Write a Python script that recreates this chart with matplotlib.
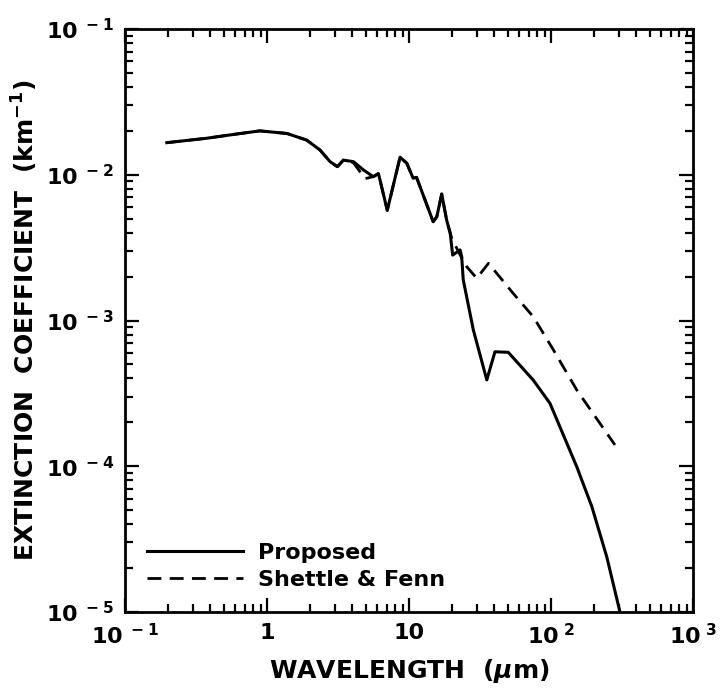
import numpy as np
import matplotlib
matplotlib.use("Agg")
import matplotlib.pyplot as plt
from matplotlib.ticker import FixedLocator, LogLocator, FixedFormatter, NullFormatter

plt.rcParams['font.family'] = ['DejaVu Sans']
plt.rcParams['mathtext.fontset'] = 'custom'
plt.rcParams['mathtext.rm'] = 'DejaVu Sans:bold'
plt.rcParams['mathtext.it'] = 'DejaVu Sans:italic:bold'

# wavelength (um) and extinction coefficient (km^-1)
wl_proposed = [0.197, 0.376, 0.58, 0.89, 1.38, 1.90, 2.36, 2.78, 3.13, 3.45, 4.06, 4.77,
               5.61, 6.09, 7.03, 8.65, 9.64, 10.7, 11.3, 14.8, 15.7, 17.0, 18.4, 19.5,
               20.3, 22.9, 23.5, 24.1, 28.4, 35.3, 40.3, 50.0, 75.0, 98.4, 152, 194,
               247, 306]
ext_proposed = [0.0166, 0.0178, 0.0189, 0.0200, 0.0192, 0.0173, 0.0148, 0.0123, 0.01136,
                0.0126, 0.0123, 0.0108, 0.0097, 0.0102, 0.0057, 0.0132, 0.0120, 0.00946,
                0.0096, 0.00476, 0.00516, 0.00738, 0.0049, 0.00397, 0.00281, 0.00305,
                0.00274, 0.0019, 0.00086, 0.000391, 0.00061, 0.000605, 0.00039,
                0.00027, 9.9e-5, 5.28e-5, 2.39e-5, 1.0e-5]

wl_sf = [0.197, 0.376, 0.58, 0.89, 1.38, 1.90, 2.36, 2.78, 3.13, 3.45, 4.06, 4.9,
         5.61, 6.09, 7.03, 8.65, 9.64, 10.7, 11.3, 14.8, 15.7, 17.0, 18.4, 20.0,
         23.0, 25.5, 30.0, 36.3, 54.3, 75.1, 104, 152, 282]
ext_sf = [0.0166, 0.0178, 0.0189, 0.0200, 0.0192, 0.0173, 0.0148, 0.0123, 0.01136,
          0.0126, 0.0121, 0.0094, 0.0097, 0.0102, 0.0057, 0.0132, 0.0120, 0.00946,
          0.0096, 0.00476, 0.00516, 0.00738, 0.0049, 0.00366, 0.0028, 0.00234,
          0.00195, 0.00247, 0.00153, 0.00106, 0.000628, 0.000333, 0.00014]

x_ticks = [0.1, 1, 10, 100, 1000]
x_ticklabels = [r'$\mathregular{10^{\ -1}}$', '1', '10',
                r'$\mathregular{10^{\ 2}}$', r'$\mathregular{10^{\ 3}}$']
y_ticks = [1e-5, 1e-4, 1e-3, 1e-2, 1e-1]
y_ticklabels = [r'$\mathregular{10^{\ -5}}$', r'$\mathregular{10^{\ -4}}$',
                r'$\mathregular{10^{\ -3}}$', r'$\mathregular{10^{\ -2}}$',
                r'$\mathregular{10^{\ -1}}$']

fig = plt.figure(figsize=(7.24, 6.9), dpi=100)
ax = fig.add_axes([125 / 724, 1 - 612 / 690, (693 - 125) / 724, (612 - 29) / 690])

ax.plot(wl_proposed, ext_proposed, color='black', lw=2.2, label='Proposed')
ax.plot(wl_sf, ext_sf, color='black', lw=2.0, dashes=(5, 3), label='Shettle & Fenn')

ax.set_xscale('log')
ax.set_yscale('log')
ax.set_xlim(0.1, 1000)
ax.set_ylim(1e-5, 1e-1)

ax.xaxis.set_major_locator(FixedLocator(x_ticks))
ax.xaxis.set_major_formatter(FixedFormatter(x_ticklabels))
ax.yaxis.set_major_locator(FixedLocator(y_ticks))
ax.yaxis.set_major_formatter(FixedFormatter(y_ticklabels))
ax.xaxis.set_minor_locator(LogLocator(base=10, subs=np.arange(2, 10), numticks=20))
ax.yaxis.set_minor_locator(LogLocator(base=10, subs=np.arange(2, 10), numticks=20))
ax.xaxis.set_minor_formatter(NullFormatter())
ax.yaxis.set_minor_formatter(NullFormatter())

ax.tick_params(which='both', direction='in', top=True, right=True, width=1.6)
ax.tick_params(which='major', length=10, labelsize=16, pad=8)
ax.tick_params(which='minor', length=6)
for s in ax.spines.values():
    s.set_linewidth(2)

for lab in ax.get_xticklabels() + ax.get_yticklabels():
    lab.set_fontweight('bold')

ax.set_xlabel(r'WAVELENGTH  ($\mathit{\mu}$m)', fontsize=18, fontweight='bold', labelpad=6)
ax.set_ylabel(r'EXTINCTION  COEFFICIENT  (km$^{-1}$)', fontsize=18, fontweight='bold', labelpad=4)

leg = ax.legend(loc='lower left', frameon=False, fontsize=16, handlelength=4.3,
                handletextpad=0.7, labelspacing=0.3, borderaxespad=0.6)
for t in leg.get_texts():
    t.set_fontweight('bold')

fig.savefig('out.png', dpi=100)
